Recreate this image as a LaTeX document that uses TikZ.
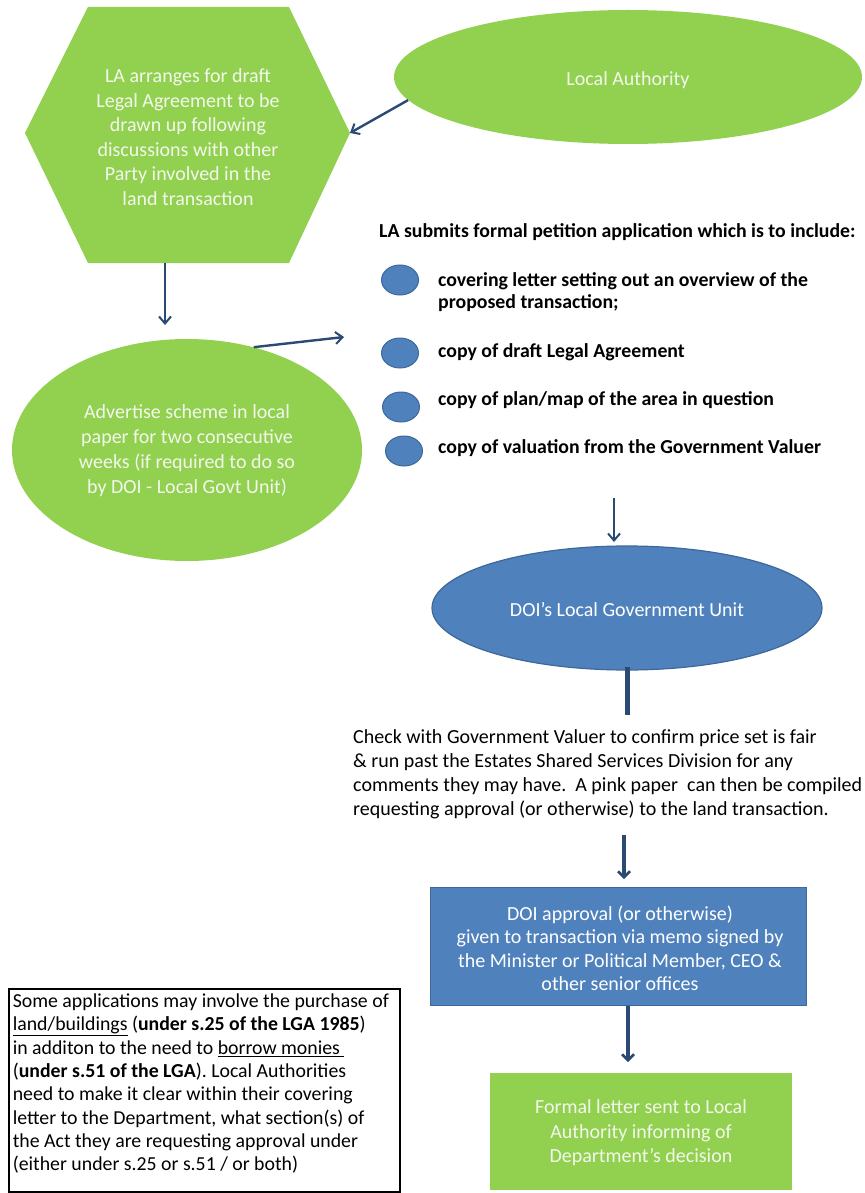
\documentclass[tikz,border=0pt]{standalone}
\usepackage{fontspec}
\setmainfont{Carlito}
\usetikzlibrary{arrows.meta,shapes.geometric}
\definecolor{leaf}{HTML}{92D050}
\definecolor{sky}{HTML}{4F81BD}
\definecolor{skyline}{HTML}{3D6899}
\definecolor{ink}{HTML}{2A4A74}
\definecolor{paletext}{HTML}{F2F8EC}
\begin{document}
\begin{tikzpicture}[x=1pt,y=-1pt,
  flow/.style={draw=ink,line width=2.4pt,-{Straight Barb[length=7pt,width=12pt,line width=2pt]}},
  heavyflow/.style={draw=ink,line width=4pt,-{Straight Barb[length=6pt,width=12pt,line width=2.5pt]}},
  stem/.style={draw=ink,line width=5pt},
  greentext/.style={text=paletext,align=center,inner sep=0pt,font=\fontsize{20}{24.5}\selectfont},
  bluetext/.style={text=white,align=center,font=\fontsize{20}{23.5}\selectfont},
  greenoval/.style={shape=ellipse,fill=leaf,inner sep=0pt},
  blueoval/.style={shape=ellipse,fill=sky,draw=skyline,line width=1.2pt,inner sep=0pt},
  bullet/.style={shape=ellipse,fill=sky,draw=skyline,line width=1pt,minimum width=37pt,minimum height=30pt,inner sep=0pt},
  itemtext/.style={anchor=west,inner sep=0pt,align=left,font=\bfseries\fontsize{19.8}{22}\selectfont},
  plaintext/.style={anchor=west,inner sep=0pt,align=left,font=\fontsize{20}{24}\selectfont},
]
\useasboundingbox[fill=white] (0,0) rectangle (864,1193);

% hexagon: drafting of the legal agreement
\fill[leaf] (88,7) -- (289,7) -- (350,133) -- (289,263) -- (88,263) -- (25,133) -- cycle;
\coordinate (hexR) at (350,133);
\coordinate (hexB) at (165,263);
\node[greentext] (hex) at (188,137) {LA arranges for draft\\Legal Agreement to be\\drawn up following\\discussions with other\\Party involved in the\\land transaction};

% local authority
\node[greenoval,minimum width=468pt,minimum height=134pt] (la) at (628,77) {};
\node[greentext] (latext) at (628,80) {Local Authority};
\draw[flow] (la.186) -- (hexR);

% advertising
\node[greenoval,minimum width=350pt,minimum height=222pt] (adv) at (187,450) {};
\node[greentext,font=\fontsize{20}{25}\selectfont] (advtext) at (187,451) {Advertise scheme in local\\paper for two consecutive\\weeks (if required to do so\\by DOI - Local Govt Unit)};
\coordinate (advIn) at (165,325);
\draw[flow] (hexB) -- (advIn);

% petition contents
\node[itemtext] (head) at (379,232) {LA submits formal petition application which is to include:};
\node[bullet] (b1) at (400,280) {};
\node[bullet] (b2) at (400,353) {};
\node[bullet] (b3) at (401,407) {};
\node[bullet] (b4) at (404,451) {};
\node[itemtext] (t1) at (438,292) {covering letter setting out an overview of the\\proposed transaction;};
\node[itemtext] (t2) at (438,352) {copy of draft Legal Agreement};
\node[itemtext] (t3) at (438,400) {copy of plan/map of the area in question};
\node[itemtext] (t4) at (438,448) {copy of valuation from the Government Valuer};
\coordinate (listIn) at (344,337);
\draw[flow] (adv.57.6) -- (listIn);

% DOI local government unit
\node[blueoval,minimum width=390pt,minimum height=124pt] (doi) at (627,608) {};
\node[bluetext] (doitext) at (627,610) {DOI's Local Government Unit};
\coordinate (listOut) at (614,498);
\draw[flow] (listOut) -- (614,542);

% checks by the unit
\node[plaintext] (check) at (353,774) {Check with Government Valuer to confirm price set is fair\\\& run past the Estates Shared Services Division for any\\comments they may have.\ \ A pink paper\ \ can then be compiled\\requesting approval (or otherwise) to the land transaction.};
\coordinate (checkTop) at (627,715);
\draw[stem] ([yshift=4pt]doi.south) -- (checkTop);

% approval
\node[shape=rectangle,fill=sky,draw=skyline,line width=1.5pt,minimum width=376pt,minimum height=118pt,inner sep=0pt] (appr) at (618.5,946.5) {};
\node[bluetext] (apprtext) at (620,948) {DOI approval (or otherwise)\\given to transaction via memo signed by\\the Minister or Political Member, CEO \&\\other senior offices};
\coordinate (checkOut) at (624,835);
\draw[heavyflow] (checkOut) -- (624,879);

% formal letter
\node[shape=rectangle,fill=leaf,minimum width=302pt,minimum height=117pt,inner sep=0pt] (letter) at (641,1131.5) {};
\node[greentext] (lettertext) at (641,1133) {Formal letter sent to Local\\Authority informing of\\Department's decision};
\coordinate (apprOut) at (628,1006);
\draw[heavyflow] (apprOut) -- (628,1062);

% note on the two sections of the Act
\node[draw=black,line width=1.6pt,anchor=north west,inner xsep=4pt,inner ysep=5pt] (note) at (8,988)
  {\parbox[c][193pt][t]{383pt}{\fontsize{19.8}{23.3}\selectfont\raggedright
   Some applications may involve the purchase of\\
   \underline{land/buildings} (\textbf{under s.25 of the LGA 1985})\\
   in additon to the need to \underline{borrow monies\ }\\
   (\textbf{under s.51 of the LGA}). Local Authorities\\
   need to make it clear within their covering\\
   letter to the Department, what section(s) of\\
   the Act they are requesting approval under\\
   (either under s.25 or s.51 / or both)}};
\end{tikzpicture}
\end{document}
